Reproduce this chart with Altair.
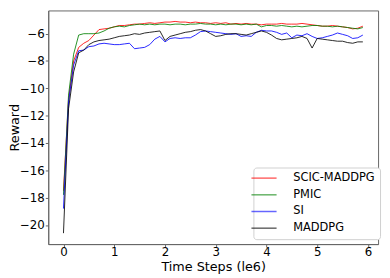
import altair as alt
import pandas as pd

steps = [round(i * 0.1, 1) for i in range(60)]

scic = [-17.5, -10.8, -8.0, -7.0, -6.7, -6.5, -6.1, -5.7, -5.65, -5.6,
        -5.5, -5.4, -5.4, -5.35, -5.3, -5.3, -5.25, -5.2, -5.25, -5.2,
        -5.15, -5.15, -5.1, -5.15, -5.15, -5.2, -5.15, -5.2, -5.2, -5.25,
        -5.2, -5.25, -5.2, -5.3, -5.25, -5.3, -5.25, -5.3, -5.3, -5.35,
        -5.3, -5.3, -5.3, -5.25, -5.3, -5.3, -5.3, -5.25, -5.3, -5.35,
        -5.4, -5.45, -5.45, -5.4, -5.45, -5.5, -5.55, -5.65, -5.6, -5.45]

pmic = [-17.8, -10.5, -7.5, -6.1, -6.0, -6.0, -6.0, -5.95, -5.8, -5.6,
        -5.5, -5.45, -5.5, -5.4, -5.35, -5.3, -5.35, -5.3, -5.35, -5.3,
        -5.3, -5.35, -5.3, -5.3, -5.35, -5.3, -5.3, -5.25, -5.3, -5.3,
        -5.35, -5.3, -5.35, -5.3, -5.3, -5.35, -5.3, -5.35, -5.3, -5.5,
        -5.4, -5.4, -5.45, -5.4, -5.45, -5.5, -5.45, -5.5, -5.45, -5.4,
        -5.4, -5.45, -5.45, -5.5, -5.45, -5.5, -5.55, -5.6, -5.65, -5.55]

si = [-18.8, -11.0, -8.3, -7.25, -7.2, -6.95, -6.9, -6.75, -6.7, -6.75,
      -6.8, -6.8, -6.75, -6.7, -7.1, -7.05, -7.0, -6.8, -6.4, -6.2,
      -6.6, -6.35, -6.3, -6.35, -6.3, -6.3, -6.1, -5.85, -5.8, -5.85,
      -5.9, -5.95, -6.0, -6.05, -6.0, -6.2, -6.15, -6.2, -5.9, -5.75,
      -5.8, -5.8, -5.9, -6.05, -5.95, -6.3, -6.1, -6.15, -6.0, -6.2,
      -6.35, -6.3, -6.2, -6.1, -5.95, -6.05, -6.15, -6.35, -6.3, -6.1]

maddpg = [-20.6, -11.5, -8.8, -7.4, -7.2, -6.8, -6.6, -6.5, -6.45, -6.4,
          -6.3, -6.2, -6.15, -6.1, -6.0, -6.05, -5.95, -5.9, -5.85, -5.8,
          -6.5, -6.2, -6.1, -6.0, -5.9, -5.85, -5.75, -5.7, -5.8, -6.0,
          -6.2, -6.15, -6.05, -6.0, -6.0, -6.05, -6.1, -6.0, -5.9, -5.8,
          -5.9, -6.1, -6.35, -6.45, -6.4, -6.35, -6.3, -6.2, -6.35, -7.05,
          -6.35, -6.4, -6.45, -6.5, -6.55, -6.55, -6.65, -6.7, -6.6, -6.6]

methods = ["SCIC-MADDPG", "PMIC", "SI", "MADDPG"]
colors = ["#ff0000", "#008000", "#0000ff", "#000000"]
x_ticks = [0, 1, 2, 3, 4, 5, 6]
y_ticks = [-20, -18, -16, -14, -12, -10, -8, -6]

rows = []
for name, vals in zip(methods, [scic, pmic, si, maddpg]):
    for s, v in zip(steps, vals):
        rows.append({"step": s, "reward": v, "method": name})
df = pd.DataFrame(rows)

font = "DejaVu Sans"

chart = alt.Chart(df).mark_line(strokeWidth=1, opacity=0.85).encode(
    x=alt.X("step:Q",
            scale=alt.Scale(domain=[-0.3, 6.2], nice=False, zero=False),
            axis=alt.Axis(values=x_ticks, title="Time Steps (le6)", grid=False,
                          format="d", labelFontSize=12, titleFontSize=13,
                          titleFontWeight="normal", tickSize=3, labelPadding=0,
                          titleBaseline="top", titleY=17)),
    y=alt.Y("reward:Q",
            scale=alt.Scale(domain=[-21.4, -4.3], nice=False, zero=False),
            axis=alt.Axis(values=y_ticks, title="Reward", grid=False,
                          format="d", labelFontSize=12, titleFontSize=13,
                          titleFontWeight="normal", tickSize=3, labelPadding=1,
                          titleBaseline="alphabetic", titleX=-30, titleY=119,
                          titleAngle=270)),
    color=alt.Color("method:N",
                    scale=alt.Scale(domain=methods, range=colors),
                    legend=alt.Legend(title=None, orient="none", legendX=209, legendY=160,
                                      symbolType="M-3.2,0H3.2", symbolSize=64,
                                      symbolStrokeWidth=1.5, symbolOpacity=0.6,
                                      labelFontSize=11.6, labelFont=font,
                                      strokeColor="#d0d0d0", cornerRadius=3,
                                      padding=5, rowPadding=4, labelOffset=24,
                                      fillColor="white")),
    order=alt.Order("step:Q"),
).properties(
    width=336, height=238,
    autosize=alt.AutoSizeParams(type="none"),
    padding={"left": 41, "top": 0, "right": 4, "bottom": 30},
).configure_view(
    stroke="#666666", strokeWidth=1
).configure_axis(
    domainColor="#666666", tickColor="#666666", labelColor="black", titleColor="black",
    labelFont=font, titleFont=font
)

chart.save("out.html", embed_options={"renderer": "svg", "actions": False})
